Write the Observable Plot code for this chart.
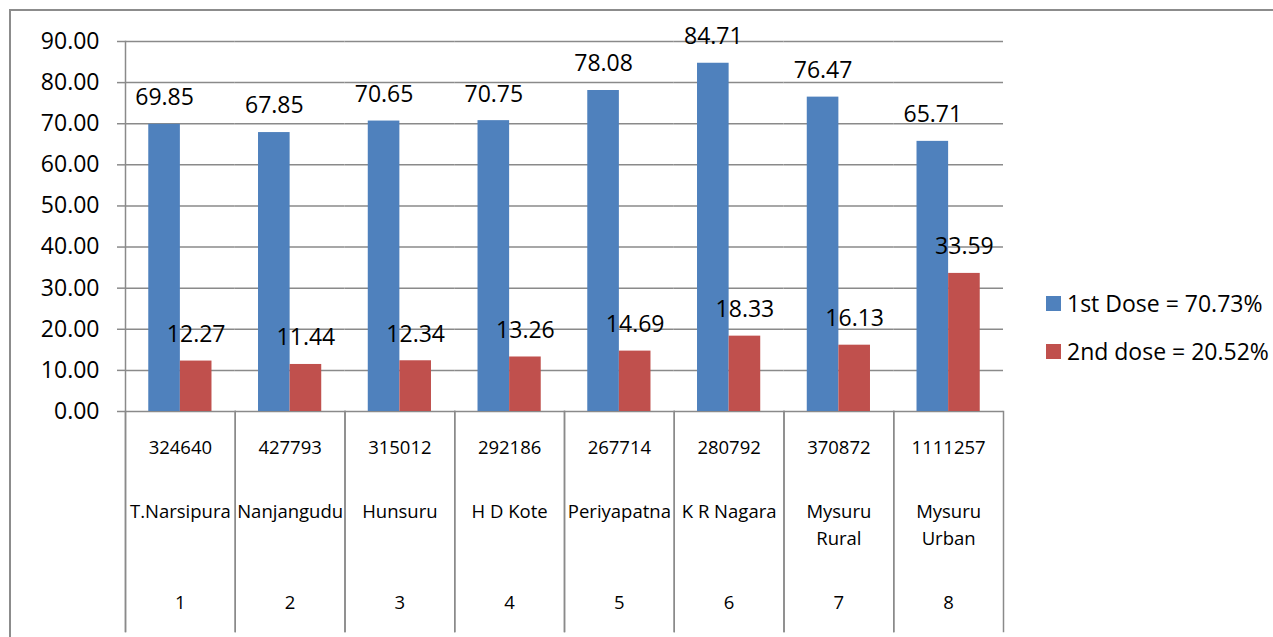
<!DOCTYPE html>
<html>
<head>
<meta charset="utf-8">
<script src="https://cdn.jsdelivr.net/npm/d3@7"></script>
<script src="https://cdn.jsdelivr.net/npm/@observablehq/plot@0.6"></script>
<style>
  html, body { margin: 0; padding: 0; background: #fff; overflow: hidden; }
  #wrap { position: relative; width: 1273px; height: 637px; overflow: hidden; background: #fff; font-family: "Open Sans", sans-serif; }
  #border { position: absolute; left: 9px; top: 9px; width: 1400px; height: 800px; border-left: 2px solid #8c8c8c; border-top: 2px solid #8c8c8c; pointer-events: none; }
  #legend { position: absolute; left: 1046px; top: 288px; font-size: 23px; color: #000; }
  .item { display: flex; align-items: center; height: 30px; margin-bottom: 18px; }
  .sw { width: 15px; height: 15px; margin-right: 6px; }
</style>
</head>
<body>
<div id="wrap">
  <div id="chart"></div>
  <div id="border"></div>
  <div id="legend"></div>
</div>
<script>
// ---- data ----
const categories = ["T.Narsipura", "Nanjangudu", "Hunsuru", "H D Kote", "Periyapatna", "K R Nagara", "Mysuru\nRural", "Mysuru\nUrban"];
const population = [324640, 427793, 315012, 292186, 267714, 280792, 370872, 1111257];
const serialNo = [1, 2, 3, 4, 5, 6, 7, 8];
const firstDose = [69.85, 67.85, 70.65, 70.75, 78.08, 84.71, 76.47, 65.71];
const secondDose = [12.27, 11.44, 12.34, 13.26, 14.69, 18.33, 16.13, 33.59];
const seriesNames = ["1st Dose", "2nd dose"];
const legendLabels = ["1st Dose = 70.73%", "2nd dose = 20.52%"];
const seriesColors = ["#4F81BD", "#C0504D"];
const yTicks = [0, 10, 20, 30, 40, 50, 60, 70, 80, 90];

const bars = categories.flatMap((c, i) => [
  {cat: c, series: seriesNames[0], value: firstDose[i]},
  {cat: c, series: seriesNames[1], value: secondDose[i]}
]);
const table = categories.map((c, i) => ({cat: c, pop: population[i], no: serialNo[i]}));

const gray = "#8a8a8a";

const chart = Plot.plot({
  width: 1273,
  height: 637,
  marginLeft: 125,
  marginRight: 270,
  marginTop: 41,
  marginBottom: 226,
  style: {fontFamily: "Open Sans, sans-serif", fontSize: "23px", color: "#000", background: "transparent", overflow: "visible"},
  fx: {domain: categories, padding: 0, round: false, axis: null, label: null},
  x: {domain: seriesNames, paddingInner: 0, paddingOuter: 0.736, round: false, axis: null, label: null},
  y: {domain: [0, 90]},
  color: {domain: seriesNames, range: seriesColors},
  marks: [
    Plot.gridY(yTicks, {stroke: gray, strokeOpacity: 1, strokeWidth: 1.5}),
    Plot.axisY(yTicks, {tickSize: 8, tickPadding: 18, tickFormat: d3.format(".2f"), stroke: gray, strokeWidth: 1.5, fontSize: 23, label: null}),
    Plot.barY(bars, {fx: "cat", x: "series", y: "value", fill: "series"}),
    Plot.text(bars, {fx: "cat", x: "series", y: "value", text: d => d.value.toFixed(2), dy: -26.5, fontSize: 23, fill: "#000"}),
    Plot.frame({anchor: "left", facetAnchor: "left", stroke: gray, strokeWidth: 1.5, insetBottom: -220}),
    Plot.frame({anchor: "left", stroke: gray, strokeWidth: 1.5, insetTop: 370, insetBottom: -220}),
    Plot.frame({anchor: "right", stroke: gray, strokeWidth: 1.5, insetTop: 370, insetBottom: -220}),
    Plot.text(table, {fx: "cat", frameAnchor: "bottom", text: d => String(d.pop), dy: 42, fontSize: 18.5, fill: "#000"}),
    Plot.text(table, {fx: "cat", frameAnchor: "bottom", text: "cat", lineAnchor: "top", lineHeight: 1.44, dy: 88, fontSize: 18.5, fill: "#000"}),
    Plot.text(table, {fx: "cat", frameAnchor: "bottom", text: d => String(d.no), dy: 197, fontSize: 18.5, fill: "#000"})
  ]
});
document.getElementById("chart").appendChild(chart);

const legend = document.getElementById("legend");
legendLabels.forEach((lab, i) => {
  const item = document.createElement("div");
  item.className = "item";
  const sw = document.createElement("div");
  sw.className = "sw";
  sw.style.background = seriesColors[i];
  const t = document.createElement("span");
  t.textContent = lab;
  item.appendChild(sw);
  item.appendChild(t);
  legend.appendChild(item);
});
</script>
</body>
</html>
